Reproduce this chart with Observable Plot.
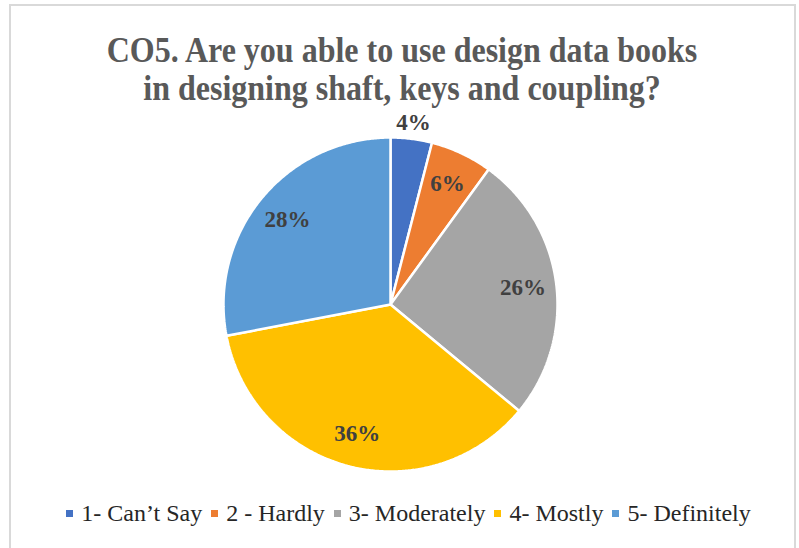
<!DOCTYPE html>
<html>
<head>
<meta charset="utf-8">
<script src="https://cdn.jsdelivr.net/npm/d3@7"></script>
<script src="https://cdn.jsdelivr.net/npm/@observablehq/plot@0.6"></script>
<style>
  html, body { margin: 0; padding: 0; background: #fff; overflow: hidden; }
  #wrap { position: relative; width: 799px; height: 548px; overflow: hidden; font-family: "Liberation Serif", "Times New Roman", serif; }
  #frame { position: absolute; left: 9px; top: 4px; width: 787px; height: 600px; border: 2px solid #d9d9d9; box-sizing: border-box; }
  #title { position: absolute; left: 0; width: 804px; top: 31px; text-align: center; font-weight: bold; font-size: 32px; line-height: 34px; color: #595959; transform: scaleY(1.12); transform-origin: 50% 0; }
  #chart { position: absolute; left: 0; top: 0; }
  #legend { position: absolute; left: 0; width: 808px; top: 499px; display: flex; justify-content: center; align-items: center; font-size: 24px; line-height: 28px; color: #262626; white-space: pre; }
  .sw { display: inline-block; width: 7px; height: 7px; margin-right: 8px; margin-left: 9px; }
</style>
</head>
<body>
<div id="wrap">
  <div id="frame"></div>
  <div id="chart"></div>
  <div id="title">CO5. Are you able to use design data books<br>in designing shaft, keys and coupling?</div>
  <div id="legend"></div>
</div>
<script>
const categories = ["1- Can\u2019t Say", "2 - Hardly", "3- Moderately", "4- Mostly", "5- Definitely"];
const values = [4, 6, 26, 36, 28];
const labels = ["4%", "6%", "26%", "36%", "28%"];
const colors = ["#4472C4", "#ED7D31", "#A5A5A5", "#FFC000", "#5B9BD5"];

const arcs = d3.pie().sort(null).value(d => d)(values);
const slicePts = [];
arcs.forEach((a, i) => {
  slicePts.push({cat: categories[i], x: 0, y: 0});
  const n = Math.max(2, Math.ceil((a.endAngle - a.startAngle) / (Math.PI / 360)));
  for (let k = 0; k <= n; k++) {
    const t = a.startAngle + (a.endAngle - a.startAngle) * k / n;
    slicePts.push({cat: categories[i], x: Math.sin(t), y: Math.cos(t)});
  }
});
const labelPts = arcs.map((a, i) => {
  const m = (a.startAngle + a.endAngle) / 2;
  const r = values[i] < 5 ? 1.1 : 0.8;
  return {text: labels[i], x: r * Math.sin(m), y: r * Math.cos(m)};
});

const chart = Plot.plot({
  width: 799,
  height: 548,
  margin: 0,
  x: {domain: [-1, 1], range: [223, 557], axis: null},
  y: {domain: [-1, 1], range: [471, 137], axis: null},
  color: {domain: categories, range: colors},
  style: {background: "transparent", overflow: "visible"},
  marks: [
    Plot.line(slicePts, {x: "x", y: "y", z: "cat", fill: "cat", stroke: "white", strokeWidth: 2.5, strokeLinejoin: "miter", curve: "linear-closed"}),
    Plot.text(labelPts, {x: "x", y: "y", text: "text", fontSize: 23, fontWeight: "bold", fontFamily: "Liberation Serif, Times New Roman, serif", fill: "#404040"})
  ]
});
document.getElementById("chart").appendChild(chart);

const leg = document.getElementById("legend");
categories.forEach((c, i) => {
  const s = document.createElement("span");
  s.className = "sw";
  s.style.background = colors[i];
  leg.appendChild(s);
  const t = document.createElement("span");
  t.textContent = c;
  leg.appendChild(t);
});
</script>
</body>
</html>
